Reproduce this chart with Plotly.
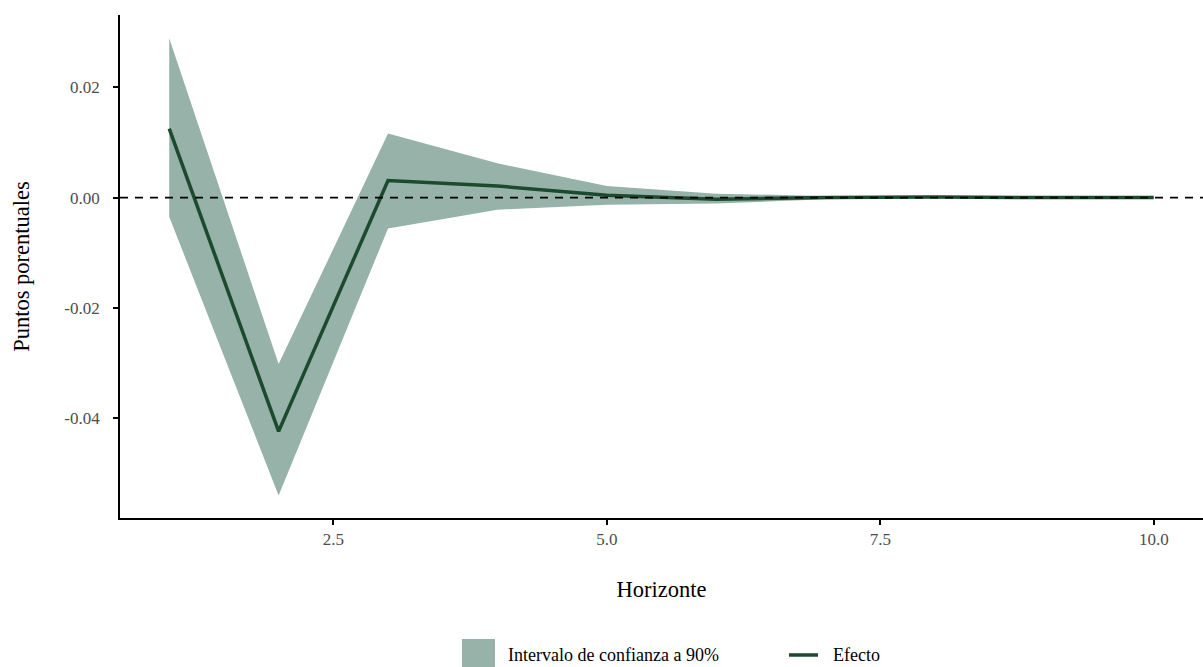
import plotly.graph_objects as go

horizonte = [1, 2, 3, 4, 5, 6, 7, 8, 9, 10]
efecto = [0.0125, -0.0424, 0.0031, 0.0021, 0.0004, -0.0003, 0.0000, 0.0001, 0.0000, 0.0000]
superior = [0.0289, -0.0302, 0.0116, 0.0062, 0.0021, 0.0007, 0.0003, 0.0002, 0.0001, 0.0000]
inferior = [-0.0035, -0.0540, -0.0056, -0.0022, -0.0013, -0.0011, -0.0003, -0.0001, -0.0001, 0.0000]

x_ticks = [2.5, 5.0, 7.5, 10.0]
x_tick_labels = ["2.5", "5.0", "7.5", "10.0"]
y_ticks = [-0.04, -0.02, 0.0, 0.02]
y_tick_labels = ["-0.04", "-0.02", "0.00", "0.02"]

nombre_banda = "Intervalo de confianza a 90%"
nombre_linea = "Efecto"

band_color = "#97b2a8"
line_color = "#1c4a2f"
font_family = "Liberation Serif"

W, H = 1203, 667
ML, MR, MT, MB = 120, 0, 15, 149
PW, PH = W - ML - MR, H - MT - MB


def px_x(px):
    return (px - ML) / PW


def px_y(py):
    return (H - MB - py) / PH


fig = go.Figure()

fig.add_trace(go.Scatter(
    x=horizonte + horizonte[::-1],
    y=superior + inferior[::-1],
    fill="toself",
    fillcolor=band_color,
    line=dict(width=0, color=band_color),
    mode="lines",
    name=nombre_banda,
    hoverinfo="skip",
    showlegend=False,
))

fig.add_trace(go.Scatter(
    x=horizonte,
    y=efecto,
    mode="lines",
    line=dict(color=line_color, width=3.5),
    name=nombre_linea,
    showlegend=False,
))

fig.add_hline(y=0, line=dict(color="black", width=1.8, dash="8px,7px"), layer="above")

# manual legend (ggplot-style, below the plot)
fig.add_shape(type="rect", xref="paper", yref="paper",
              x0=px_x(462), x1=px_x(495), y0=px_y(639), y1=px_y(672),
              fillcolor=band_color, line=dict(width=0))
fig.add_annotation(xref="paper", yref="paper", x=px_x(506), y=px_y(655),
                   xanchor="left", yanchor="middle", showarrow=False,
                   text=nombre_banda,
                   font=dict(family=font_family, size=18, color="black"))
fig.add_shape(type="line", xref="paper", yref="paper",
              x0=px_x(789), x1=px_x(818), y0=px_y(655), y1=px_y(655),
              line=dict(color=line_color, width=3.5))
fig.add_annotation(xref="paper", yref="paper", x=px_x(831), y=px_y(655),
                   xanchor="left", yanchor="middle", showarrow=False,
                   text=nombre_linea,
                   font=dict(family=font_family, size=18, color="black"))

fig.update_layout(
    width=W,
    height=H,
    paper_bgcolor="white",
    plot_bgcolor="white",
    margin=dict(l=ML, r=MR, t=MT, b=MB),
    font=dict(family=font_family, size=14, color="black"),
    showlegend=False,
    xaxis=dict(
        range=[0.55, 10.45],
        tickvals=x_ticks,
        ticktext=x_tick_labels,
        showgrid=False,
        zeroline=False,
        showline=True,
        linecolor="black",
        linewidth=1.8,
        ticks="outside",
        ticklen=5,
        tickwidth=1.5,
        tickcolor="black",
        ticklabelstandoff=0,
        tickfont=dict(family=font_family, size=17, color="#4d4d4d"),
        automargin=False,
        title=dict(text="Horizonte", font=dict(family=font_family, size=22.5, color="black"), standoff=33),
    ),
    yaxis=dict(
        range=[-0.0581, 0.0331],
        tickvals=y_ticks,
        ticktext=y_tick_labels,
        showgrid=False,
        zeroline=False,
        showline=True,
        linecolor="black",
        linewidth=1.8,
        ticks="outside",
        ticklen=5,
        tickwidth=1.5,
        tickcolor="black",
        ticklabelstandoff=10,
        tickfont=dict(family=font_family, size=17, color="#4d4d4d"),
        automargin=False,
        title=dict(text="Puntos porentuales", font=dict(family=font_family, size=22.5, color="black"), standoff=28),
    ),
)

fig.write_html(
    "out.html",
    config={"displayModeBar": False},
    post_script="document.body.style.margin='0';document.body.style.overflow='hidden';",
)
